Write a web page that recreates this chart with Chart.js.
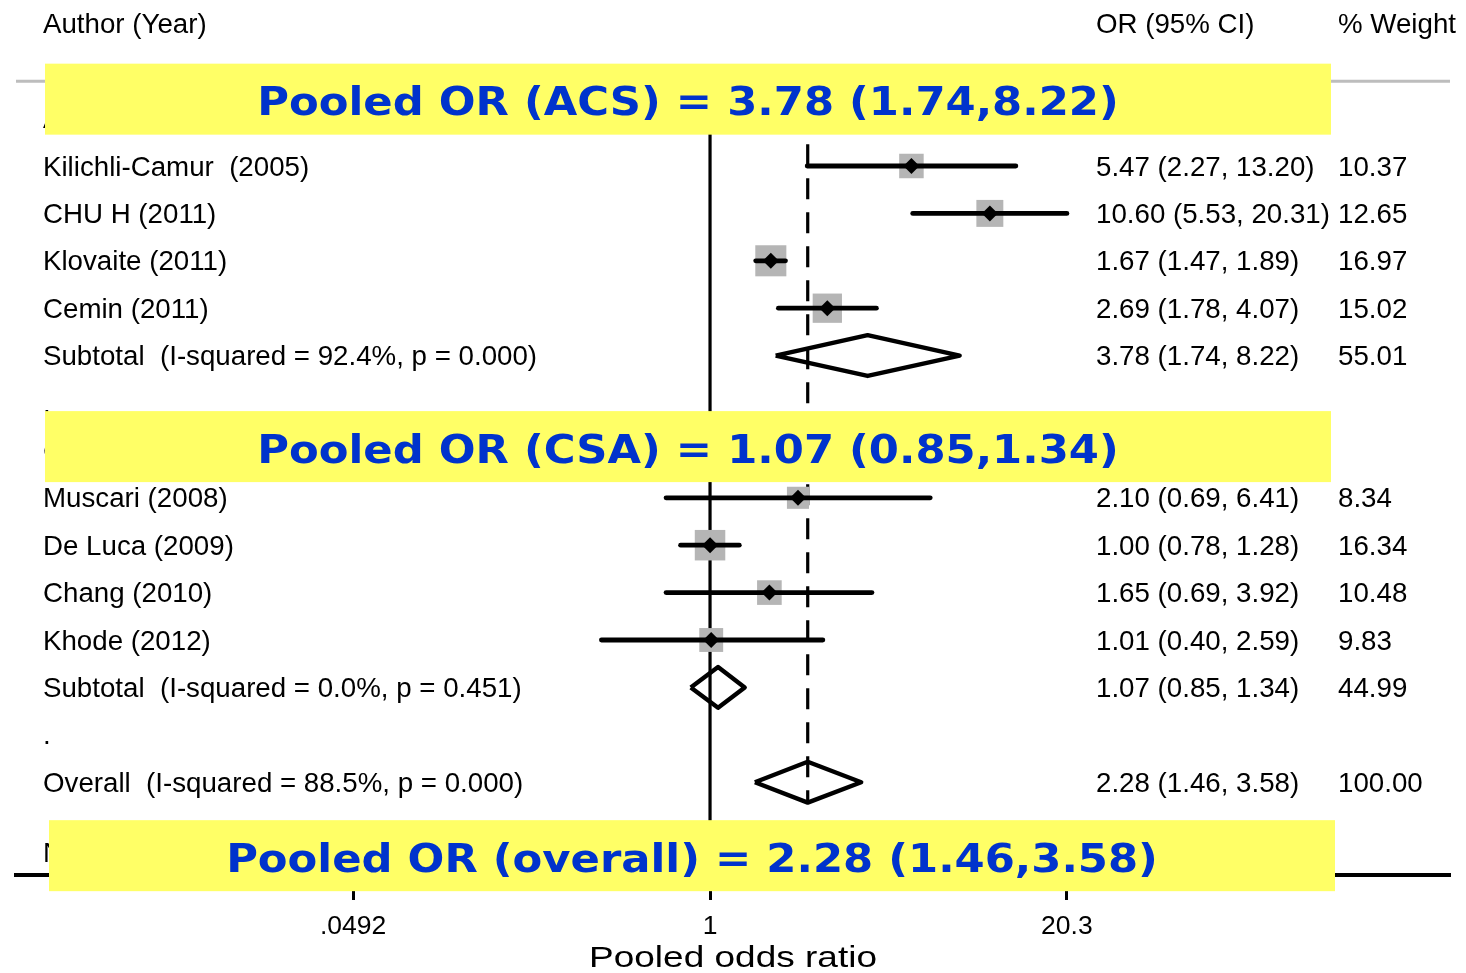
<!DOCTYPE html>
<html>
<head>
<meta charset="utf-8">
<script src="https://cdn.jsdelivr.net/npm/chart.js@4.4.1/dist/chart.umd.min.js"></script>
<style>
  html, body { margin: 0; padding: 0; background: #fff; }
  #wrap { position: relative; width: 1466px; height: 973px; }
</style>
</head>
<body>
<div id="wrap"><canvas id="forest"></canvas></div>
<script>
// study rows (row index counts down the plot, 0 = first group label)
const studyLabels = ['Kilichli-Camur  (2005)', 'CHU H (2011)', 'Klovaite (2011)', 'Cemin (2011)',
  'Muscari (2008)', 'De Luca (2009)', 'Chang (2010)', 'Khode (2012)'];
const studyRows = [1, 2, 3, 4, 8, 9, 10, 11];
const studyOR = [5.47, 10.60, 1.67, 2.69, 2.10, 1.00, 1.65, 1.01];
const studyLow = [2.27, 5.53, 1.47, 1.78, 0.69, 0.78, 0.69, 0.40];
const studyHigh = [13.20, 20.31, 1.89, 4.07, 6.41, 1.28, 3.92, 2.59];
const studyWeight = [10.37, 12.65, 16.97, 15.02, 8.34, 16.34, 10.48, 9.83];

const pooledLabels = ['Subtotal  (I-squared = 92.4%, p = 0.000)', 'Subtotal  (I-squared = 0.0%, p = 0.451)',
  'Overall  (I-squared = 88.5%, p = 0.000)'];
const pooledRows = [5, 12, 14];
const pooledOR = [3.78, 1.07, 2.28];
const pooledLow = [1.74, 0.85, 1.46];
const pooledHigh = [8.22, 1.34, 3.58];
const pooledWeight = [55.01, 44.99, 100.00];

const groupLabels = ['ACS', 'CSA'];
const groupRows = [0, 7];
const spacerRows = [6, 13];
const headerLabels = ['Author (Year)', 'OR (95% CI)', '% Weight'];
const headerRow = -2;
const noteText = 'NOTE: Weights are from random effects analysis';
const noteRow = 15.47;

const tickValues = [0.0492, 1, 20.3];
const tickLabels = ['.0492', '1', '20.3'];

const bannerTexts = ['Pooled OR (ACS) = 3.78 (1.74,8.22)', 'Pooled OR (CSA) = 1.07 (0.85,1.34)',
  'Pooled OR (overall) = 2.28 (1.46,3.58)'];
const bannerRows = [-0.41, 6.92, 15.55];

// layout
const X_MIN = 0.002863, X_MAX = 514.6;
const Y_TOP = -2.502, Y_BOTTOM = 15.958;
const colX = [43, 1096, 1338];
const bannerLeft = [29, 29, 33];
const BANNER_W = 1286, BANNER_H = 71;
const TEXT_FONT = '27.7px "Liberation Sans", Arial, sans-serif';

const fmt = v => v.toFixed(2);
const overall = pooledOR[2];

const datasets = [];

// null line at OR = 1
datasets.push({
  data: [{ x: 1, y: -0.5 }, { x: 1, y: Y_BOTTOM }],
  showLine: true, borderColor: '#000', borderWidth: 3.2, pointRadius: 0, order: 6,
});
// grey rule under header
datasets.push({
  data: [{ x: X_MIN, y: -0.79 }, { x: X_MAX, y: -0.79 }],
  showLine: true, borderColor: '#bdbdbd', borderWidth: 3, borderCapStyle: 'round', pointRadius: 0, order: 6,
});
// dashed overall line
datasets.push({
  data: [{ x: overall, y: 0.54 }, { x: overall, y: pooledRows[2] + 0.43 }],
  showLine: true, borderColor: '#000', borderWidth: 3.2, borderDash: [21, 13], pointRadius: 0, order: 5,
});
// weight boxes
datasets.push({
  data: studyOR.map((v, i) => ({ x: v, y: studyRows[i] })),
  showLine: false, pointStyle: 'rect', backgroundColor: '#b5b5b5', borderWidth: 0,
  pointRadius: studyWeight.map(w => (7.3 * Math.sqrt(w) + 1) / Math.SQRT2),
  order: 4,
});
// confidence intervals
studyOR.forEach((v, i) => {
  datasets.push({
    data: [{ x: studyLow[i], y: studyRows[i] }, { x: studyHigh[i], y: studyRows[i] }],
    showLine: true, borderColor: '#000', borderWidth: 4.8, borderCapStyle: 'round', pointRadius: 0, order: 3,
  });
});
// point estimates
datasets.push({
  data: studyOR.map((v, i) => ({ x: v, y: studyRows[i] })),
  showLine: false, pointStyle: 'rectRot', pointRadius: 8, backgroundColor: '#000', borderWidth: 0, order: 1,
});
// pooled diamonds
pooledOR.forEach((v, i) => {
  const r = pooledRows[i], h = 0.43;
  datasets.push({
    data: [{ x: pooledLow[i], y: r }, { x: v, y: r - h }, { x: pooledHigh[i], y: r }, { x: v, y: r + h }, { x: pooledLow[i], y: r }],
    showLine: true, borderColor: '#000', borderWidth: 4.4, borderJoinStyle: 'round', pointRadius: 0, order: 2,
  });
});

const forestText = {
  id: 'forestText',
  afterDraw(chart) {
    const { ctx, chartArea, scales: { y } } = chart;
    ctx.save();
    ctx.fillStyle = '#000';
    ctx.font = TEXT_FONT;
    ctx.textBaseline = 'middle';
    ctx.textAlign = 'left';
    const put = (txt, col, row) => ctx.fillText(txt, col, y.getPixelForValue(row) + 2);

    headerLabels.forEach((t, i) => put(t, colX[i], headerRow));
    groupLabels.forEach((t, i) => put(t, colX[0], groupRows[i]));
    spacerRows.forEach(r => put('.', colX[0], r));
    studyLabels.forEach((t, i) => {
      put(t, colX[0], studyRows[i]);
      put(`${fmt(studyOR[i])} (${fmt(studyLow[i])}, ${fmt(studyHigh[i])})`, colX[1], studyRows[i]);
      put(fmt(studyWeight[i]), colX[2], studyRows[i]);
    });
    pooledLabels.forEach((t, i) => {
      put(t, colX[0], pooledRows[i]);
      put(`${fmt(pooledOR[i])} (${fmt(pooledLow[i])}, ${fmt(pooledHigh[i])})`, colX[1], pooledRows[i]);
      put(fmt(pooledWeight[i]), colX[2], pooledRows[i]);
    });
    put(noteText, colX[0], noteRow);

    // axis title (stretched wide as in the original export)
    ctx.save();
    ctx.font = '29px "Liberation Sans", Arial, sans-serif';
    ctx.textAlign = 'center';
    ctx.translate((chartArea.left + chartArea.right) / 2, 959);
    ctx.scale(1.276, 1);
    ctx.fillText('Pooled odds ratio', 0, 0);
    ctx.restore();

    // yellow highlight banners
    bannerTexts.forEach((t, i) => {
      const cy = y.getPixelForValue(bannerRows[i]);
      const left = chartArea.left + bannerLeft[i];
      ctx.fillStyle = '#ffff66';
      ctx.fillRect(left, cy - BANNER_H / 2, BANNER_W, BANNER_H);
      ctx.save();
      ctx.fillStyle = '#0033cc';
      ctx.font = 'bold 39px "DejaVu Sans", Verdana, sans-serif';
      ctx.textAlign = 'center';
      ctx.textBaseline = 'alphabetic';
      ctx.translate(left + BANNER_W / 2, cy + 16);
      ctx.scale(1.11, 1);
      ctx.fillText(t, 0, 0);
      ctx.restore();
    });
    ctx.restore();
  }
};

new Chart(document.getElementById('forest'), {
  type: 'scatter',
  data: { datasets },
  options: {
    responsive: true,
    maintainAspectRatio: false,
    animation: false,
    layout: { autoPadding: false, padding: { left: 16, right: 16, top: 0, bottom: 0 } },
    plugins: { legend: { display: false }, tooltip: { enabled: false } },
    scales: {
      x: {
        type: 'logarithmic',
        min: X_MIN,
        max: X_MAX,
        bounds: 'data',
        afterBuildTicks: (axis) => { axis.ticks = tickValues.map(v => ({ value: v })); },
        afterFit: (axis) => { axis.height = 98; },
        ticks: {
          autoSkip: false,
          maxRotation: 0,
          padding: 11,
          color: '#000',
          font: { family: '"Liberation Sans", Arial, sans-serif', size: 26.5 },
          callback: (value, index) => tickLabels[index],
        },
        grid: { display: true, drawOnChartArea: false, drawTicks: true, tickLength: 25, tickWidth: 3, tickColor: '#000' },
        border: { display: true, color: '#000', width: 4 },
      },
      y: {
        type: 'linear',
        reverse: true,
        min: Y_TOP,
        max: Y_BOTTOM,
        display: false,
      },
    },
  },
  plugins: [forestText],
});
</script>
</body>
</html>
